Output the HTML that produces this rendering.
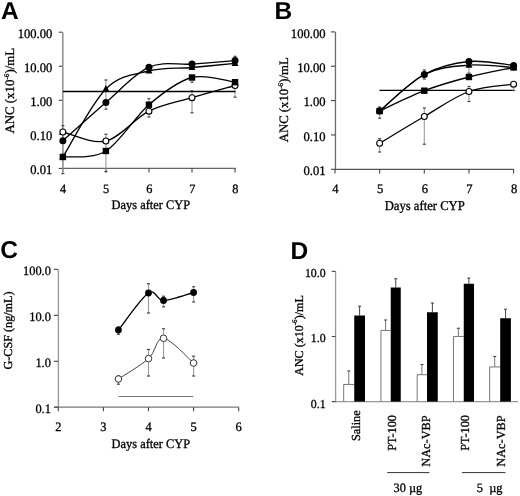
<!DOCTYPE html>
<html><head><meta charset="utf-8"><style>
html,body{margin:0;padding:0;background:#fff;}
svg{display:block;will-change:transform;}
</style></head><body>
<svg text-rendering="geometricPrecision" width="520" height="496" viewBox="0 0 520 496">
<rect width="520" height="496" fill="#fff"/>
<text transform="translate(1.10,18.60) scale(1.0,1.0)" font-family="Liberation Sans" font-size="24.5" text-anchor="start" font-weight="bold">A</text>
<line x1="62.80" y1="32.20" x2="62.80" y2="168.90" stroke="#8c8c8c" stroke-width="1.5"/>
<line x1="62.20" y1="168.40" x2="236.00" y2="168.40" stroke="#666" stroke-width="1.25"/>
<line x1="58.80" y1="32.20" x2="62.20" y2="32.20" stroke="#444" stroke-width="1.1"/>
<text transform="translate(52.30,37.90) scale(1.0,1.04)" font-family="Liberation Serif" font-size="12.6" text-anchor="end" stroke="#000" stroke-width="0.3">100.00</text>
<line x1="58.80" y1="66.25" x2="62.20" y2="66.25" stroke="#444" stroke-width="1.1"/>
<text transform="translate(52.30,71.95) scale(1.0,1.04)" font-family="Liberation Serif" font-size="12.6" text-anchor="end" stroke="#000" stroke-width="0.3">10.00</text>
<line x1="58.80" y1="100.30" x2="62.20" y2="100.30" stroke="#444" stroke-width="1.1"/>
<text transform="translate(52.30,106.00) scale(1.0,1.04)" font-family="Liberation Serif" font-size="12.6" text-anchor="end" stroke="#000" stroke-width="0.3">1.00</text>
<line x1="58.80" y1="134.35" x2="62.20" y2="134.35" stroke="#444" stroke-width="1.1"/>
<text transform="translate(52.30,140.05) scale(1.0,1.04)" font-family="Liberation Serif" font-size="12.6" text-anchor="end" stroke="#000" stroke-width="0.3">0.10</text>
<line x1="58.80" y1="168.40" x2="62.20" y2="168.40" stroke="#444" stroke-width="1.1"/>
<text transform="translate(52.30,174.10) scale(1.0,1.04)" font-family="Liberation Serif" font-size="12.6" text-anchor="end" stroke="#000" stroke-width="0.3">0.01</text>
<line x1="62.85" y1="168.40" x2="62.85" y2="172.60" stroke="#444" stroke-width="1.1"/>
<text transform="translate(63.15,192.60) scale(1.0,1.04)" font-family="Liberation Serif" font-size="12.3" text-anchor="middle" stroke="#000" stroke-width="0.3">4</text>
<line x1="105.90" y1="168.40" x2="105.90" y2="172.60" stroke="#444" stroke-width="1.1"/>
<text transform="translate(106.20,192.60) scale(1.0,1.04)" font-family="Liberation Serif" font-size="12.3" text-anchor="middle" stroke="#000" stroke-width="0.3">5</text>
<line x1="148.95" y1="168.40" x2="148.95" y2="172.60" stroke="#444" stroke-width="1.1"/>
<text transform="translate(149.25,192.60) scale(1.0,1.04)" font-family="Liberation Serif" font-size="12.3" text-anchor="middle" stroke="#000" stroke-width="0.3">6</text>
<line x1="192.00" y1="168.40" x2="192.00" y2="172.60" stroke="#444" stroke-width="1.1"/>
<text transform="translate(192.30,192.60) scale(1.0,1.04)" font-family="Liberation Serif" font-size="12.3" text-anchor="middle" stroke="#000" stroke-width="0.3">7</text>
<line x1="235.05" y1="168.40" x2="235.05" y2="172.60" stroke="#444" stroke-width="1.1"/>
<text transform="translate(235.35,192.60) scale(1.0,1.04)" font-family="Liberation Serif" font-size="12.3" text-anchor="middle" stroke="#000" stroke-width="0.3">8</text>
<text transform="translate(150.85,209.10) scale(1.0,1.06)" font-family="Liberation Serif" font-size="12.4" text-anchor="middle" stroke="#000" stroke-width="0.3">Days after CYP</text>
<text transform="translate(14.00,90.70) scale(1,1.0) rotate(-90)" font-family="Liberation Serif" font-size="12.9" text-anchor="middle" stroke="#000" stroke-width="0.3">ANC (x10<tspan dy="-5.5" font-size="7.2">-6</tspan><tspan dy="5.5">)/mL</tspan></text>
<line x1="62.85" y1="125.70" x2="62.85" y2="173.60" stroke="#999" stroke-width="1.1"/>
<line x1="61.35" y1="125.70" x2="64.35" y2="125.70" stroke="#444" stroke-width="1.2"/>
<line x1="61.35" y1="173.60" x2="64.35" y2="173.60" stroke="#444" stroke-width="1.2"/>
<line x1="105.90" y1="80.00" x2="105.90" y2="109.20" stroke="#999" stroke-width="1.1"/>
<line x1="104.40" y1="80.00" x2="107.40" y2="80.00" stroke="#444" stroke-width="1.2"/>
<line x1="104.40" y1="109.20" x2="107.40" y2="109.20" stroke="#444" stroke-width="1.2"/>
<line x1="105.90" y1="134.20" x2="105.90" y2="171.60" stroke="#999" stroke-width="1.1"/>
<line x1="104.40" y1="134.20" x2="107.40" y2="134.20" stroke="#444" stroke-width="1.2"/>
<line x1="104.40" y1="171.60" x2="107.40" y2="171.60" stroke="#444" stroke-width="1.2"/>
<line x1="148.95" y1="98.70" x2="148.95" y2="117.00" stroke="#999" stroke-width="1.1"/>
<line x1="147.45" y1="98.70" x2="150.45" y2="98.70" stroke="#444" stroke-width="1.2"/>
<line x1="147.45" y1="117.00" x2="150.45" y2="117.00" stroke="#444" stroke-width="1.2"/>
<line x1="192.00" y1="91.00" x2="192.00" y2="112.80" stroke="#999" stroke-width="1.1"/>
<line x1="190.50" y1="91.00" x2="193.50" y2="91.00" stroke="#444" stroke-width="1.2"/>
<line x1="190.50" y1="112.80" x2="193.50" y2="112.80" stroke="#444" stroke-width="1.2"/>
<line x1="192.00" y1="77.50" x2="192.00" y2="82.20" stroke="#999" stroke-width="1.1"/>
<line x1="190.50" y1="77.50" x2="193.50" y2="77.50" stroke="#444" stroke-width="1.2"/>
<line x1="190.50" y1="82.20" x2="193.50" y2="82.20" stroke="#444" stroke-width="1.2"/>
<line x1="235.05" y1="56.30" x2="235.05" y2="60.60" stroke="#999" stroke-width="1.1"/>
<line x1="233.55" y1="56.30" x2="236.55" y2="56.30" stroke="#444" stroke-width="1.2"/>
<line x1="233.55" y1="60.60" x2="236.55" y2="60.60" stroke="#444" stroke-width="1.2"/>
<line x1="235.05" y1="86.00" x2="235.05" y2="97.20" stroke="#999" stroke-width="1.1"/>
<line x1="233.55" y1="86.00" x2="236.55" y2="86.00" stroke="#444" stroke-width="1.2"/>
<line x1="233.55" y1="97.20" x2="236.55" y2="97.20" stroke="#444" stroke-width="1.2"/>
<line x1="63.00" y1="91.50" x2="235.40" y2="91.50" stroke="#000" stroke-width="1.3"/>
<path d="M62.85,140.80 C70.03,134.42 91.55,114.77 105.90,102.50 C120.25,90.23 134.60,73.60 148.95,67.20 C163.30,60.80 177.65,65.20 192.00,64.10 C206.35,63.00 227.87,61.18 235.05,60.60" fill="none" stroke="#000" stroke-width="1.3" stroke-linejoin="round"/>
<path d="M62.85,157.00 C70.03,145.67 91.55,103.33 105.90,89.00 C120.25,74.67 134.60,74.58 148.95,71.00 C163.30,67.42 177.65,68.78 192.00,67.50 C206.35,66.22 227.87,64.00 235.05,63.30" fill="none" stroke="#000" stroke-width="1.3" stroke-linejoin="round"/>
<path d="M62.85,157.00 C70.03,156.00 91.55,159.72 105.90,151.00 C120.25,142.28 134.60,116.95 148.95,104.70 C163.30,92.45 177.65,81.25 192.00,77.50 C206.35,73.75 227.87,81.42 235.05,82.20" fill="none" stroke="#000" stroke-width="1.3" stroke-linejoin="round"/>
<path d="M62.85,132.00 C70.03,133.50 91.55,144.47 105.90,141.00 C120.25,137.53 134.60,118.42 148.95,111.20 C163.30,103.98 177.65,101.98 192.00,97.70 C206.35,93.42 227.87,87.53 235.05,85.50" fill="none" stroke="#000" stroke-width="1.3" stroke-linejoin="round"/>
<circle cx="62.85" cy="132.00" r="2.95" fill="#fff" stroke="#000" stroke-width="1.1"/>
<circle cx="105.90" cy="141.00" r="2.95" fill="#fff" stroke="#000" stroke-width="1.1"/>
<circle cx="148.95" cy="111.20" r="2.95" fill="#fff" stroke="#000" stroke-width="1.1"/>
<circle cx="192.00" cy="97.70" r="2.95" fill="#fff" stroke="#000" stroke-width="1.1"/>
<circle cx="235.05" cy="85.50" r="2.95" fill="#fff" stroke="#000" stroke-width="1.1"/>
<rect x="59.65" y="153.80" width="6.4" height="6.4" fill="#000"/>
<rect x="102.70" y="147.80" width="6.4" height="6.4" fill="#000"/>
<rect x="145.75" y="101.50" width="6.4" height="6.4" fill="#000"/>
<rect x="188.80" y="74.30" width="6.4" height="6.4" fill="#000"/>
<rect x="231.85" y="79.00" width="6.4" height="6.4" fill="#000"/>
<path d="M62.85,153.09 L66.35,159.60 L59.35,159.60 Z" fill="#000"/>
<path d="M105.90,85.09 L109.40,91.60 L102.40,91.60 Z" fill="#000"/>
<path d="M148.95,67.09 L152.45,73.60 L145.45,73.60 Z" fill="#000"/>
<path d="M192.00,63.59 L195.50,70.10 L188.50,70.10 Z" fill="#000"/>
<path d="M235.05,59.39 L238.55,65.90 L231.55,65.90 Z" fill="#000"/>
<circle cx="62.85" cy="140.80" r="3.5" fill="#000"/>
<circle cx="105.90" cy="102.50" r="3.5" fill="#000"/>
<circle cx="148.95" cy="67.20" r="3.5" fill="#000"/>
<circle cx="192.00" cy="64.10" r="3.5" fill="#000"/>
<circle cx="235.05" cy="60.60" r="3.5" fill="#000"/>
<text transform="translate(274.50,18.60) scale(1.0,1.0)" font-family="Liberation Sans" font-size="24.5" text-anchor="start" font-weight="bold">B</text>
<line x1="335.45" y1="31.90" x2="335.45" y2="169.80" stroke="#6a6a6a" stroke-width="1.3"/>
<line x1="334.80" y1="169.30" x2="513.80" y2="169.30" stroke="#555" stroke-width="1.3"/>
<line x1="331.00" y1="31.90" x2="335.00" y2="31.90" stroke="#444" stroke-width="1.1"/>
<text transform="translate(325.50,37.60) scale(1.0,1.04)" font-family="Liberation Serif" font-size="12.6" text-anchor="end" stroke="#000" stroke-width="0.3">100.00</text>
<line x1="331.00" y1="66.25" x2="335.00" y2="66.25" stroke="#444" stroke-width="1.1"/>
<text transform="translate(325.50,71.95) scale(1.0,1.04)" font-family="Liberation Serif" font-size="12.6" text-anchor="end" stroke="#000" stroke-width="0.3">10.00</text>
<line x1="331.00" y1="100.60" x2="335.00" y2="100.60" stroke="#444" stroke-width="1.1"/>
<text transform="translate(325.50,106.30) scale(1.0,1.04)" font-family="Liberation Serif" font-size="12.6" text-anchor="end" stroke="#000" stroke-width="0.3">1.00</text>
<line x1="331.00" y1="134.95" x2="335.00" y2="134.95" stroke="#444" stroke-width="1.1"/>
<text transform="translate(325.50,140.65) scale(1.0,1.04)" font-family="Liberation Serif" font-size="12.6" text-anchor="end" stroke="#000" stroke-width="0.3">0.10</text>
<line x1="331.00" y1="169.30" x2="335.00" y2="169.30" stroke="#444" stroke-width="1.1"/>
<text transform="translate(325.50,175.00) scale(1.0,1.04)" font-family="Liberation Serif" font-size="12.6" text-anchor="end" stroke="#000" stroke-width="0.3">0.01</text>
<line x1="335.00" y1="169.30" x2="335.00" y2="173.50" stroke="#444" stroke-width="1.1"/>
<text transform="translate(335.50,193.30) scale(1.0,1.04)" font-family="Liberation Serif" font-size="12.6" text-anchor="middle" stroke="#000" stroke-width="0.3">4</text>
<line x1="379.65" y1="169.30" x2="379.65" y2="173.50" stroke="#444" stroke-width="1.1"/>
<text transform="translate(380.15,193.30) scale(1.0,1.04)" font-family="Liberation Serif" font-size="12.6" text-anchor="middle" stroke="#000" stroke-width="0.3">5</text>
<line x1="424.30" y1="169.30" x2="424.30" y2="173.50" stroke="#444" stroke-width="1.1"/>
<text transform="translate(424.80,193.30) scale(1.0,1.04)" font-family="Liberation Serif" font-size="12.6" text-anchor="middle" stroke="#000" stroke-width="0.3">6</text>
<line x1="468.95" y1="169.30" x2="468.95" y2="173.50" stroke="#444" stroke-width="1.1"/>
<text transform="translate(469.45,193.30) scale(1.0,1.04)" font-family="Liberation Serif" font-size="12.6" text-anchor="middle" stroke="#000" stroke-width="0.3">7</text>
<line x1="513.60" y1="169.30" x2="513.60" y2="173.50" stroke="#444" stroke-width="1.1"/>
<text transform="translate(514.10,193.30) scale(1.0,1.04)" font-family="Liberation Serif" font-size="12.6" text-anchor="middle" stroke="#000" stroke-width="0.3">8</text>
<text transform="translate(424.70,210.00) scale(1.0,1.06)" font-family="Liberation Serif" font-size="12.65" text-anchor="middle" stroke="#000" stroke-width="0.3">Days after CYP</text>
<text transform="translate(288.00,99.80) scale(1,1.0) rotate(-90)" font-family="Liberation Serif" font-size="12.75" text-anchor="middle" stroke="#000" stroke-width="0.3">ANC (x10<tspan dy="-5.5" font-size="7.2">-6</tspan><tspan dy="5.5">)/mL</tspan></text>
<line x1="379.65" y1="107.00" x2="379.65" y2="118.20" stroke="#999" stroke-width="1.1"/>
<line x1="378.15" y1="107.00" x2="381.15" y2="107.00" stroke="#444" stroke-width="1.2"/>
<line x1="378.15" y1="118.20" x2="381.15" y2="118.20" stroke="#444" stroke-width="1.2"/>
<line x1="379.65" y1="138.75" x2="379.65" y2="152.00" stroke="#999" stroke-width="1.1"/>
<line x1="378.15" y1="138.75" x2="381.15" y2="138.75" stroke="#444" stroke-width="1.2"/>
<line x1="378.15" y1="152.00" x2="381.15" y2="152.00" stroke="#444" stroke-width="1.2"/>
<line x1="424.30" y1="108.00" x2="424.30" y2="144.25" stroke="#999" stroke-width="1.1"/>
<line x1="422.80" y1="108.00" x2="425.80" y2="108.00" stroke="#444" stroke-width="1.2"/>
<line x1="422.80" y1="144.25" x2="425.80" y2="144.25" stroke="#444" stroke-width="1.2"/>
<line x1="424.30" y1="70.00" x2="424.30" y2="79.00" stroke="#999" stroke-width="1.1"/>
<line x1="422.80" y1="70.00" x2="425.80" y2="70.00" stroke="#444" stroke-width="1.2"/>
<line x1="422.80" y1="79.00" x2="425.80" y2="79.00" stroke="#444" stroke-width="1.2"/>
<line x1="468.95" y1="86.50" x2="468.95" y2="101.50" stroke="#999" stroke-width="1.1"/>
<line x1="467.45" y1="86.50" x2="470.45" y2="86.50" stroke="#444" stroke-width="1.2"/>
<line x1="467.45" y1="101.50" x2="470.45" y2="101.50" stroke="#444" stroke-width="1.2"/>
<line x1="468.95" y1="61.00" x2="468.95" y2="73.10" stroke="#999" stroke-width="1.1"/>
<line x1="467.45" y1="61.00" x2="470.45" y2="61.00" stroke="#444" stroke-width="1.2"/>
<line x1="467.45" y1="73.10" x2="470.45" y2="73.10" stroke="#444" stroke-width="1.2"/>
<line x1="379.50" y1="90.40" x2="513.50" y2="90.40" stroke="#000" stroke-width="1.15"/>
<line x1="513.60" y1="84.20" x2="513.60" y2="90.50" stroke="#999" stroke-width="1.1"/>
<line x1="512.10" y1="84.20" x2="515.10" y2="84.20" stroke="#444" stroke-width="1.2"/>
<line x1="512.10" y1="90.50" x2="515.10" y2="90.50" stroke="#444" stroke-width="1.2"/>
<path d="M379.65,111.00 C387.09,104.92 409.42,82.75 424.30,74.50 C439.18,66.25 454.07,63.02 468.95,61.50 C483.83,59.98 506.16,64.75 513.60,65.40" fill="none" stroke="#000" stroke-width="1.3" stroke-linejoin="round"/>
<path d="M379.65,111.00 C387.09,104.92 409.42,82.13 424.30,74.50 C439.18,66.87 454.07,66.37 468.95,65.20 C483.83,64.03 506.16,67.12 513.60,67.50" fill="none" stroke="#000" stroke-width="1.3" stroke-linejoin="round"/>
<path d="M379.65,111.00 C387.09,107.62 409.42,96.37 424.30,90.70 C439.18,85.03 454.07,80.87 468.95,77.00 C483.83,73.13 506.16,69.08 513.60,67.50" fill="none" stroke="#000" stroke-width="1.3" stroke-linejoin="round"/>
<path d="M379.65,143.25 C387.09,138.79 409.42,125.12 424.30,116.50 C439.18,107.88 454.07,96.88 468.95,91.50 C483.83,86.12 506.16,85.42 513.60,84.20" fill="none" stroke="#000" stroke-width="1.3" stroke-linejoin="round"/>
<circle cx="379.65" cy="143.25" r="2.95" fill="#fff" stroke="#000" stroke-width="1.1"/>
<circle cx="424.30" cy="116.50" r="2.95" fill="#fff" stroke="#000" stroke-width="1.1"/>
<circle cx="468.95" cy="91.50" r="2.95" fill="#fff" stroke="#000" stroke-width="1.1"/>
<circle cx="513.60" cy="84.20" r="2.95" fill="#fff" stroke="#000" stroke-width="1.1"/>
<rect x="376.45" y="107.80" width="6.4" height="6.4" fill="#000"/>
<rect x="421.10" y="87.50" width="6.4" height="6.4" fill="#000"/>
<rect x="465.75" y="73.80" width="6.4" height="6.4" fill="#000"/>
<rect x="510.40" y="64.30" width="6.4" height="6.4" fill="#000"/>
<path d="M379.65,107.09 L383.15,113.60 L376.15,113.60 Z" fill="#000"/>
<path d="M424.30,70.59 L427.80,77.10 L420.80,77.10 Z" fill="#000"/>
<path d="M468.95,61.29 L472.45,67.80 L465.45,67.80 Z" fill="#000"/>
<path d="M513.60,63.59 L517.10,70.10 L510.10,70.10 Z" fill="#000"/>
<circle cx="379.65" cy="111.00" r="3.5" fill="#000"/>
<circle cx="424.30" cy="74.50" r="3.5" fill="#000"/>
<circle cx="468.95" cy="61.50" r="3.5" fill="#000"/>
<circle cx="513.60" cy="65.40" r="3.5" fill="#000"/>
<text transform="translate(0.20,258.30) scale(1.0,1.0)" font-family="Liberation Sans" font-size="24.5" text-anchor="start" font-weight="bold">C</text>
<line x1="58.40" y1="269.40" x2="58.40" y2="407.70" stroke="#999" stroke-width="1.4"/>
<line x1="54.60" y1="407.20" x2="238.80" y2="407.20" stroke="#777" stroke-width="1.3"/>
<line x1="53.80" y1="269.35" x2="58.00" y2="269.35" stroke="#444" stroke-width="1.1"/>
<text transform="translate(50.90,275.05) scale(1.0,1.04)" font-family="Liberation Serif" font-size="12.4" text-anchor="end" stroke="#000" stroke-width="0.3">100.0</text>
<line x1="53.80" y1="315.30" x2="58.00" y2="315.30" stroke="#444" stroke-width="1.1"/>
<text transform="translate(50.90,321.00) scale(1.0,1.04)" font-family="Liberation Serif" font-size="12.4" text-anchor="end" stroke="#000" stroke-width="0.3">10.0</text>
<line x1="53.80" y1="361.25" x2="58.00" y2="361.25" stroke="#444" stroke-width="1.1"/>
<text transform="translate(50.90,366.95) scale(1.0,1.04)" font-family="Liberation Serif" font-size="12.4" text-anchor="end" stroke="#000" stroke-width="0.3">1.0</text>
<line x1="53.80" y1="407.20" x2="58.00" y2="407.20" stroke="#444" stroke-width="1.1"/>
<text transform="translate(50.90,412.90) scale(1.0,1.04)" font-family="Liberation Serif" font-size="12.4" text-anchor="end" stroke="#000" stroke-width="0.3">0.1</text>
<line x1="58.30" y1="407.20" x2="58.30" y2="411.20" stroke="#444" stroke-width="1.1"/>
<text transform="translate(58.30,430.70) scale(1.0,1.04)" font-family="Liberation Serif" font-size="12.4" text-anchor="middle" stroke="#000" stroke-width="0.3">2</text>
<line x1="103.40" y1="407.20" x2="103.40" y2="411.20" stroke="#444" stroke-width="1.1"/>
<text transform="translate(103.40,430.70) scale(1.0,1.04)" font-family="Liberation Serif" font-size="12.4" text-anchor="middle" stroke="#000" stroke-width="0.3">3</text>
<line x1="148.50" y1="407.20" x2="148.50" y2="411.20" stroke="#444" stroke-width="1.1"/>
<text transform="translate(148.50,430.70) scale(1.0,1.04)" font-family="Liberation Serif" font-size="12.4" text-anchor="middle" stroke="#000" stroke-width="0.3">4</text>
<line x1="193.60" y1="407.20" x2="193.60" y2="411.20" stroke="#444" stroke-width="1.1"/>
<text transform="translate(193.60,430.70) scale(1.0,1.04)" font-family="Liberation Serif" font-size="12.4" text-anchor="middle" stroke="#000" stroke-width="0.3">5</text>
<line x1="238.70" y1="407.20" x2="238.70" y2="411.20" stroke="#444" stroke-width="1.1"/>
<text transform="translate(238.70,430.70) scale(1.0,1.04)" font-family="Liberation Serif" font-size="12.4" text-anchor="middle" stroke="#000" stroke-width="0.3">6</text>
<text transform="translate(150.85,448.40) scale(1.0,1.06)" font-family="Liberation Serif" font-size="12.4" text-anchor="middle" stroke="#000" stroke-width="0.3">Days after CYP</text>
<text transform="translate(11.60,330.50) scale(1,1.0) rotate(-90)" font-family="Liberation Serif" font-size="12.2" text-anchor="middle" stroke="#000" stroke-width="0.3">G-CSF (ng/mL)</text>
<line x1="118.50" y1="396.50" x2="193.30" y2="396.50" stroke="#777" stroke-width="1.1"/>
<line x1="118.42" y1="327.00" x2="118.42" y2="334.30" stroke="#999" stroke-width="1.1"/>
<line x1="116.92" y1="327.00" x2="119.92" y2="327.00" stroke="#444" stroke-width="1.2"/>
<line x1="116.92" y1="334.30" x2="119.92" y2="334.30" stroke="#444" stroke-width="1.2"/>
<line x1="148.50" y1="283.75" x2="148.50" y2="313.00" stroke="#999" stroke-width="1.1"/>
<line x1="147.00" y1="283.75" x2="150.00" y2="283.75" stroke="#444" stroke-width="1.2"/>
<line x1="147.00" y1="313.00" x2="150.00" y2="313.00" stroke="#444" stroke-width="1.2"/>
<line x1="163.52" y1="296.25" x2="163.52" y2="306.75" stroke="#999" stroke-width="1.1"/>
<line x1="162.02" y1="296.25" x2="165.02" y2="296.25" stroke="#444" stroke-width="1.2"/>
<line x1="162.02" y1="306.75" x2="165.02" y2="306.75" stroke="#444" stroke-width="1.2"/>
<line x1="193.60" y1="286.75" x2="193.60" y2="302.00" stroke="#999" stroke-width="1.1"/>
<line x1="192.10" y1="286.75" x2="195.10" y2="286.75" stroke="#444" stroke-width="1.2"/>
<line x1="192.10" y1="302.00" x2="195.10" y2="302.00" stroke="#444" stroke-width="1.2"/>
<line x1="118.42" y1="376.00" x2="118.42" y2="384.20" stroke="#999" stroke-width="1.1"/>
<line x1="116.92" y1="376.00" x2="119.92" y2="376.00" stroke="#444" stroke-width="1.2"/>
<line x1="116.92" y1="384.20" x2="119.92" y2="384.20" stroke="#444" stroke-width="1.2"/>
<line x1="148.50" y1="349.50" x2="148.50" y2="376.00" stroke="#999" stroke-width="1.1"/>
<line x1="147.00" y1="349.50" x2="150.00" y2="349.50" stroke="#444" stroke-width="1.2"/>
<line x1="147.00" y1="376.00" x2="150.00" y2="376.00" stroke="#444" stroke-width="1.2"/>
<line x1="163.52" y1="328.75" x2="163.52" y2="358.00" stroke="#999" stroke-width="1.1"/>
<line x1="162.02" y1="328.75" x2="165.02" y2="328.75" stroke="#444" stroke-width="1.2"/>
<line x1="162.02" y1="358.00" x2="165.02" y2="358.00" stroke="#444" stroke-width="1.2"/>
<line x1="193.60" y1="356.25" x2="193.60" y2="376.00" stroke="#999" stroke-width="1.1"/>
<line x1="192.10" y1="356.25" x2="195.10" y2="356.25" stroke="#444" stroke-width="1.2"/>
<line x1="192.10" y1="376.00" x2="195.10" y2="376.00" stroke="#444" stroke-width="1.2"/>
<path d="M118.42,330.00 C123.43,323.83 140.98,297.92 148.50,293.00 C156.02,288.08 156.00,300.58 163.52,300.50 C171.03,300.42 188.59,293.83 193.60,292.50" fill="none" stroke="#000" stroke-width="1.4" stroke-linejoin="round"/>
<path d="M118.42,379.00 C123.43,375.60 140.98,365.39 148.50,358.60 C156.02,351.81 156.00,337.52 163.52,338.25 C171.03,338.98 188.59,358.88 193.60,363.00" fill="none" stroke="#444" stroke-width="1.0" stroke-linejoin="round"/>
<circle cx="118.42" cy="379.00" r="3.3" fill="#fff" stroke="#333" stroke-width="1.0"/>
<circle cx="148.50" cy="358.60" r="3.3" fill="#fff" stroke="#333" stroke-width="1.0"/>
<circle cx="163.52" cy="338.25" r="3.3" fill="#fff" stroke="#333" stroke-width="1.0"/>
<circle cx="193.60" cy="363.00" r="3.3" fill="#fff" stroke="#333" stroke-width="1.0"/>
<circle cx="118.42" cy="330.00" r="3.4" fill="#000"/>
<circle cx="148.50" cy="293.00" r="3.4" fill="#000"/>
<circle cx="163.52" cy="300.50" r="3.4" fill="#000"/>
<circle cx="193.60" cy="292.50" r="3.4" fill="#000"/>
<text transform="translate(290.50,258.50) scale(1.0,1.0)" font-family="Liberation Sans" font-size="24.5" text-anchor="start" font-weight="bold">D</text>
<line x1="335.60" y1="271.20" x2="335.60" y2="401.60" stroke="#999" stroke-width="1.3"/>
<line x1="332.40" y1="401.60" x2="518.00" y2="401.60" stroke="#999" stroke-width="1.3"/>
<line x1="331.80" y1="271.40" x2="335.50" y2="271.40" stroke="#444" stroke-width="1.1"/>
<text transform="translate(325.60,277.30) scale(1.0,1.04)" font-family="Liberation Serif" font-size="11.8" text-anchor="end" stroke="#000" stroke-width="0.3">10.0</text>
<line x1="331.80" y1="336.50" x2="335.50" y2="336.50" stroke="#444" stroke-width="1.1"/>
<text transform="translate(325.60,342.40) scale(1.0,1.04)" font-family="Liberation Serif" font-size="11.8" text-anchor="end" stroke="#000" stroke-width="0.3">1.0</text>
<line x1="331.80" y1="401.60" x2="335.50" y2="401.60" stroke="#444" stroke-width="1.1"/>
<text transform="translate(325.60,407.50) scale(1.0,1.04)" font-family="Liberation Serif" font-size="11.8" text-anchor="end" stroke="#000" stroke-width="0.3">0.1</text>
<text transform="translate(302.60,335.50) scale(1,1.0) rotate(-90)" font-family="Liberation Serif" font-size="12.05" text-anchor="middle" stroke="#000" stroke-width="0.3">ANC (x10<tspan dy="-5.5" font-size="7.2">-6</tspan><tspan dy="5.5">)/mL</tspan></text>
<line x1="348.75" y1="384.00" x2="348.75" y2="371.00" stroke="#777" stroke-width="1.0"/>
<line x1="347.25" y1="371.00" x2="350.25" y2="371.00" stroke="#444" stroke-width="1.1"/>
<path d="M343.70,401.60 V384.45 H354.25" fill="none" stroke="#666" stroke-width="0.9"/>
<line x1="359.62" y1="315.50" x2="359.62" y2="306.25" stroke="#444" stroke-width="1.0"/>
<line x1="358.12" y1="306.25" x2="361.12" y2="306.25" stroke="#444" stroke-width="1.1"/>
<rect x="354.25" y="315.50" width="10.75" height="86.10" fill="#000"/>
<line x1="385.62" y1="330.00" x2="385.62" y2="320.00" stroke="#777" stroke-width="1.0"/>
<line x1="384.12" y1="320.00" x2="387.12" y2="320.00" stroke="#444" stroke-width="1.1"/>
<path d="M380.95,401.60 V330.45 H390.75" fill="none" stroke="#666" stroke-width="0.9"/>
<line x1="395.75" y1="287.50" x2="395.75" y2="278.75" stroke="#444" stroke-width="1.0"/>
<line x1="394.25" y1="278.75" x2="397.25" y2="278.75" stroke="#444" stroke-width="1.1"/>
<rect x="390.75" y="287.50" width="10.00" height="114.10" fill="#000"/>
<line x1="421.88" y1="374.25" x2="421.88" y2="364.50" stroke="#777" stroke-width="1.0"/>
<line x1="420.38" y1="364.50" x2="423.38" y2="364.50" stroke="#444" stroke-width="1.1"/>
<path d="M417.20,401.60 V374.70 H427.00" fill="none" stroke="#666" stroke-width="0.9"/>
<line x1="432.38" y1="312.25" x2="432.38" y2="303.00" stroke="#444" stroke-width="1.0"/>
<line x1="430.88" y1="303.00" x2="433.88" y2="303.00" stroke="#444" stroke-width="1.1"/>
<rect x="427.00" y="312.25" width="10.75" height="89.35" fill="#000"/>
<line x1="458.38" y1="336.00" x2="458.38" y2="328.25" stroke="#777" stroke-width="1.0"/>
<line x1="456.88" y1="328.25" x2="459.88" y2="328.25" stroke="#444" stroke-width="1.1"/>
<path d="M453.45,401.60 V336.45 H463.75" fill="none" stroke="#666" stroke-width="0.9"/>
<line x1="468.88" y1="283.75" x2="468.88" y2="278.00" stroke="#444" stroke-width="1.0"/>
<line x1="467.38" y1="278.00" x2="470.38" y2="278.00" stroke="#444" stroke-width="1.1"/>
<rect x="463.75" y="283.75" width="10.25" height="117.85" fill="#000"/>
<line x1="494.70" y1="366.50" x2="494.70" y2="356.50" stroke="#777" stroke-width="1.0"/>
<line x1="493.20" y1="356.50" x2="496.20" y2="356.50" stroke="#444" stroke-width="1.1"/>
<path d="M489.65,401.60 V366.95 H500.20" fill="none" stroke="#666" stroke-width="0.9"/>
<line x1="505.55" y1="318.25" x2="505.55" y2="309.25" stroke="#444" stroke-width="1.0"/>
<line x1="504.05" y1="309.25" x2="507.05" y2="309.25" stroke="#444" stroke-width="1.1"/>
<rect x="500.20" y="318.25" width="10.70" height="83.35" fill="#000"/>
<text transform="translate(360.40,410.30) scale(1,1.0) rotate(-90)" font-family="Liberation Serif" font-size="12.3" text-anchor="end" stroke="#000" stroke-width="0.3">Saline</text>
<text transform="translate(395.50,415.00) scale(1,1.0) rotate(-90)" font-family="Liberation Serif" font-size="12.3" text-anchor="end" stroke="#000" stroke-width="0.3">PT-100</text>
<text transform="translate(429.80,415.40) scale(1,1.0) rotate(-90)" font-family="Liberation Serif" font-size="12.3" text-anchor="end" stroke="#000" stroke-width="0.3">NAc-VBP</text>
<text transform="translate(469.20,415.00) scale(1,1.0) rotate(-90)" font-family="Liberation Serif" font-size="12.3" text-anchor="end" stroke="#000" stroke-width="0.3">PT-100</text>
<text transform="translate(504.70,415.40) scale(1,1.0) rotate(-90)" font-family="Liberation Serif" font-size="12.3" text-anchor="end" stroke="#000" stroke-width="0.3">NAc-VBP</text>
<line x1="387.20" y1="472.60" x2="429.40" y2="472.60" stroke="#333" stroke-width="1"/>
<line x1="461.90" y1="472.60" x2="505.50" y2="472.60" stroke="#333" stroke-width="1"/>
<text transform="translate(407.90,491.70) scale(1.0,1.04)" font-family="Liberation Serif" font-size="12.3" text-anchor="middle" stroke="#000" stroke-width="0.3">30 &#181;g</text>
<text transform="translate(489.60,491.70) scale(1.0,1.04)" font-family="Liberation Serif" font-size="12.3" text-anchor="middle" stroke="#000" stroke-width="0.3">5 &#160;&#181;g</text>
</svg></body></html>
